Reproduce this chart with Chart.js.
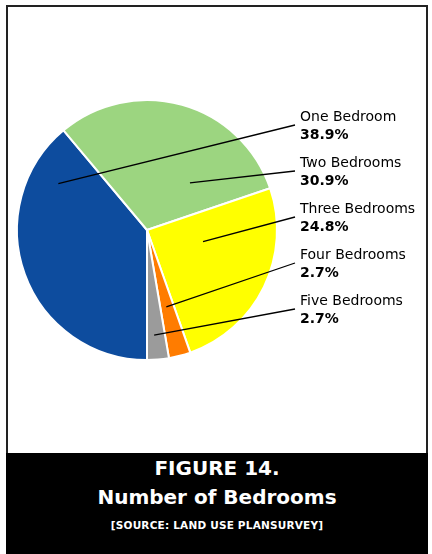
<!DOCTYPE html>
<html>
<head>
<meta charset="utf-8">
<script src="https://cdn.jsdelivr.net/npm/chart.js@4/dist/chart.umd.min.js"></script>
<style>
  html, body { margin: 0; padding: 0; background: #fff; }
  #wrap { position: relative; width: 432px; height: 554px; overflow: hidden; font-family: "DejaVu Sans", sans-serif; }
  #frame { position: absolute; left: 6px; top: 5px; width: 418px; height: 446px; border: 2px solid #222; border-bottom: none; }
  #caption { position: absolute; left: 6px; top: 453px; width: 422px; height: 101px; background: #000; color: #fff; text-align: center; }
  #caption .fig { position: absolute; left: 0; right: 0; top: 3px; font-weight: bold; font-size: 20px; line-height: 24px; }
  #caption .name { position: absolute; left: 0; right: 0; top: 32px; font-weight: bold; font-size: 20px; line-height: 24px; }
  #caption .src { position: absolute; left: 0; right: 0; top: 65px; font-weight: bold; font-size: 10.5px; line-height: 14px; letter-spacing: 0.2px; }
  canvas { position: absolute; left: 0; top: 0; }
</style>
</head>
<body>
<div id="wrap">
  <div id="frame"></div>
  <canvas id="chart" width="432" height="554"></canvas>
  <div id="caption">
    <div class="fig">FIGURE 14.</div>
    <div class="name">Number of Bedrooms</div>
    <div class="src">[SOURCE: LAND USE PLANSURVEY]</div>
  </div>
</div>
<script>
// Share of housing units by number of bedrooms (percent)
const categories = ["One Bedroom", "Two Bedrooms", "Three Bedrooms", "Four Bedrooms", "Five Bedrooms"];
const shares = [38.9, 30.9, 24.8, 2.7, 2.7];
const sliceColors = ["#0d4c9e", "#9cd580", "#ffff00", "#ff7c00", "#9b9b9b"];

// Where each leader line starts inside its slice:
// fraction across the slice's angle, fraction of the radius
const leaderAnchors = [[0.84, 0.77], [0.74, 0.49], [0.34, 0.44], [0.55, 0.61], [0.6, 0.81]];

const calloutPlugin = {
  id: 'callouts',
  afterDatasetsDraw(chart) {
    const ctx = chart.ctx;
    const arcs = chart.getDatasetMeta(0).data;
    const textX = 300, firstY = 117, step = 46;
    ctx.save();
    arcs.forEach((arc, i) => {
      const p = arc.getProps(['x', 'y', 'startAngle', 'endAngle', 'outerRadius'], true);
      const [fa, fr] = leaderAnchors[i];
      const ang = p.startAngle + (p.endAngle - p.startAngle) * fa;
      const r = p.outerRadius * fr;
      const sx = p.x + Math.cos(ang) * r;
      const sy = p.y + Math.sin(ang) * r;
      const ty = firstY + i * step;
      ctx.strokeStyle = '#000';
      ctx.lineWidth = 1.3;
      ctx.beginPath();
      ctx.moveTo(sx, sy);
      ctx.lineTo(textX - 5, ty + 8);
      ctx.stroke();
      ctx.fillStyle = '#000';
      ctx.textBaseline = 'middle';
      ctx.textAlign = 'left';
      ctx.font = '14px "DejaVu Sans", sans-serif';
      ctx.fillText(categories[i], textX, ty);
      ctx.font = 'bold 14px "DejaVu Sans", sans-serif';
      ctx.fillText(shares[i].toFixed(1) + '%', textX, ty + 18);
    });
    ctx.restore();
  }
};

new Chart(document.getElementById('chart'), {
  type: 'pie',
  data: {
    labels: categories,
    datasets: [{
      data: shares,
      backgroundColor: sliceColors,
      borderColor: '#ffffff',
      borderWidth: 2
    }]
  },
  options: {
    responsive: false,
    animation: false,
    rotation: 180,
    layout: { padding: { left: 16, top: 99, right: 154, bottom: 193 } },
    plugins: { legend: { display: false }, tooltip: { enabled: false }, title: { display: false } }
  },
  plugins: [calloutPlugin]
});
</script>
</body>
</html>
